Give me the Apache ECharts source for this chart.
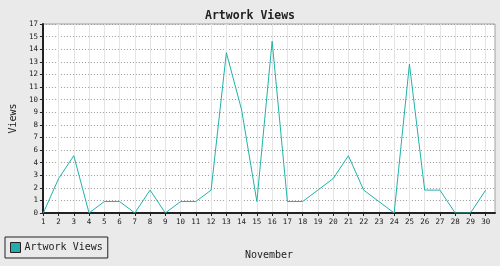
<!DOCTYPE html>
<html>
<head>
<meta charset="utf-8">
<script src="https://cdn.jsdelivr.net/npm/echarts@6/dist/echarts.min.js"></script>
<style>
html,body{margin:0;padding:0;background:#eaeaea;}
#chart{width:500px;height:266px;}
</style>
</head>
<body>
<div id="chart"></div>
<script>
const titleText = 'Artwork Views';
const seriesName = 'Artwork Views';
const xAxisName = 'November';
const yAxisName = 'Views';
const days = ['1','2','3','4','5','6','7','8','9','10','11','12','13','14','15','16','17','18','19','20','21','22','23','24','25','26','27','28','29','30'];
const views = [0,3,5,0,1,1,0,2,0,1,1,2,14,9,1,15,1,1,2,3,5,2,1,0,13,2,2,0,0,2];
const yTickLabels = ['0','1','2','3','4','6','7','8','9','10','11','12','13','14','15','17'];
const yMax = 16.5;
const yStep = 1.1;

const mono = 'DejaVu Sans Mono';
const dark = '#222';
const chart = echarts.init(document.getElementById('chart'), null, {renderer: 'canvas'});
chart.setOption({
  animation: false,
  backgroundColor: '#eaeaea',
  title: {
    text: titleText, left: 'center', top: 5,
    textStyle: {fontFamily: mono, fontSize: 11.5, fontWeight: 'bold', color: dark}
  },
  legend: {
    left: 5, top: 237, orient: 'horizontal',
    padding: [5, 5, 5, 5],
    borderColor: dark, borderWidth: 1,
    itemWidth: 10, itemHeight: 10, itemGap: 4,
    icon: 'rect',
    itemStyle: {borderColor: dark, borderWidth: 1},
    textStyle: {fontFamily: mono, fontSize: 10, color: dark, lineHeight: 10, padding: [0, 0, 0, -1]},
    data: [seriesName]
  },
  grid: [
    {left: 35, right: 5, top: 24, bottom: 53, show: true, backgroundColor: '#ffffff', borderColor: '#a0a0a0', borderWidth: 1},
    {left: 43.3, right: 14.3, top: 24, bottom: 53, show: false}
  ],
  xAxis: [
    {
      type: 'value', gridIndex: 0, min: 0, max: 1,
      name: xAxisName, nameLocation: 'middle', nameGap: 37,
      nameTextStyle: {fontFamily: mono, fontSize: 10, color: dark},
      axisLine: {show: true, lineStyle: {color: dark, width: 2}},
      axisTick: {show: false}, axisLabel: {show: false}, splitLine: {show: false}
    },
    {
      type: 'category', gridIndex: 1, data: days, boundaryGap: false,
      axisLine: {show: false},
      axisTick: {show: true, length: 3, lineStyle: {color: dark, width: 1}},
      axisLabel: {show: true, margin: 5, fontFamily: mono, fontSize: 7.5, color: dark, interval: 0},
      splitLine: {show: true, lineStyle: {color: '#e4e4e4', width: 1}}
    }
  ],
  yAxis: [
    {
      type: 'value', gridIndex: 0, min: 0, max: yMax, interval: yStep,
      name: yAxisName, nameLocation: 'middle', nameRotate: 90, nameGap: 17,
      nameTextStyle: {fontFamily: mono, fontSize: 10, color: dark},
      axisLine: {show: true, lineStyle: {color: dark, width: 2}},
      axisTick: {show: true, length: 3, lineStyle: {color: dark, width: 1}},
      axisLabel: {show: true, margin: 5, fontFamily: mono, fontSize: 7.5, color: dark,
        formatter: function (v, i) { return yTickLabels[i] !== undefined ? yTickLabels[i] : String(Math.round(v + 1e-9)); }},
      splitLine: {show: true, lineStyle: {color: '#999', width: 1, type: [1, 2]}}
    },
    {
      type: 'value', gridIndex: 1, min: 0, max: yMax, interval: yStep, show: false,
      splitLine: {show: false}
    }
  ],
  series: [{
    name: seriesName, type: 'line', xAxisIndex: 1, yAxisIndex: 1,
    data: views, symbol: 'none', showSymbol: false,
    lineStyle: {color: '#20b2aa', width: 1},
    itemStyle: {color: '#2aabab'},
    emphasis: {disabled: true}
  }]
});
</script>
</body>
</html>
